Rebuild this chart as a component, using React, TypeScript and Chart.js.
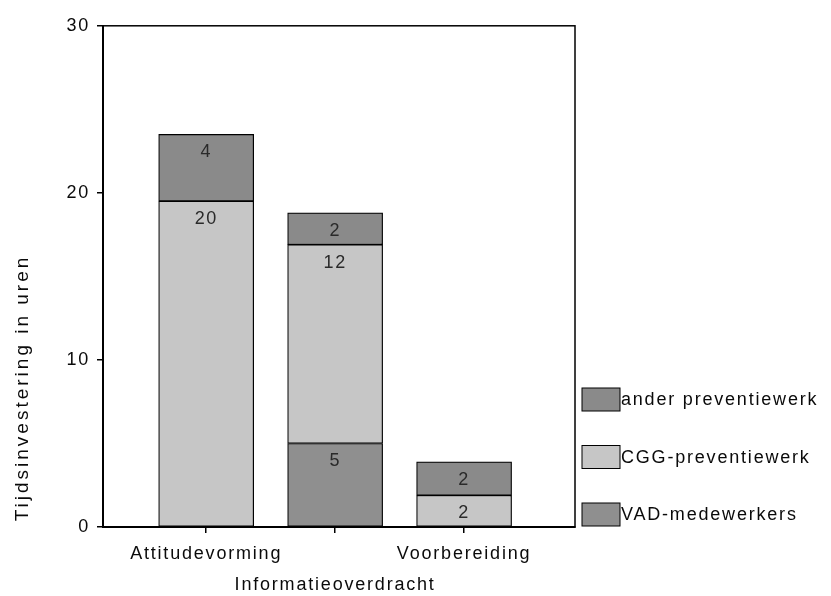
import React, { useEffect, useRef } from 'react';
import { Chart, registerables } from 'chart.js';

Chart.register(...registerables);

const categories = ['Attitudevorming', 'Informatieoverdracht', 'Voorbereiding'];
const seriesNames = ['VAD-medewerkers', 'CGG-preventiewerk', 'ander preventiewerk'];
const vadValues: (number | null)[] = [null, 5.0, null];
const cggValues: (number | null)[] = [19.5, 11.9, 1.9];
const anderValues: (number | null)[] = [4.0, 1.9, 2.0];
const seriesColors = ['#8f8f8f', '#c6c6c6', '#8a8a8a'];
const yTitle = 'Tijdsinvestering in uren';

const FONT = "'Liberation Sans', Arial, sans-serif";

const spacingPlugin = {
  id: 'spacing',
  beforeDraw(chart: any) {
    chart.ctx.letterSpacing = '1.8px';
  },
};

const framePlugin = {
  id: 'frame',
  afterDraw(chart: any) {
    const { ctx, chartArea } = chart;
    ctx.save();
    ctx.strokeStyle = '#000';
    ctx.lineWidth = 1.5;
    ctx.strokeRect(chartArea.left, chartArea.top, chartArea.right - chartArea.left, chartArea.bottom - chartArea.top);
    ctx.restore();
  },
};

const labelPlugin = {
  id: 'barLabels',
  afterDatasetsDraw(chart: any) {
    const { ctx } = chart;
    ctx.save();
    ctx.letterSpacing = '1.5px';
    ctx.font = `18px ${FONT}`;
    ctx.fillStyle = '#2a2a2a';
    ctx.textAlign = 'center';
    ctx.textBaseline = 'middle';
    chart.data.datasets.forEach((ds: any, i: number) => {
      const meta = chart.getDatasetMeta(i);
      meta.data.forEach((el: any, j: number) => {
        const v = ds.data[j].y;
        if (v == null) return;
        ctx.fillText(String(Math.round(v)), el.x, el.y + 18);
      });
    });
    ctx.restore();
  },
};

const legendTitlePlugin = {
  id: 'legendTitle',
  afterDraw(chart: any) {
    const { ctx } = chart;
    ctx.save();
    ctx.font = `18px ${FONT}`;
    const dsets = [...chart.data.datasets].reverse();
    ctx.letterSpacing = '1.8px';
    dsets.forEach((ds: any, k: number) => {
      const cy = 391.5 + k * 57.5;
      ctx.fillStyle = ds.backgroundColor;
      ctx.fillRect(574, cy - 11.5, 38, 23);
      ctx.strokeStyle = '#000';
      ctx.lineWidth = 1;
      ctx.strokeRect(574, cy - 11.5, 38, 23);
      ctx.fillStyle = '#0a0a0a';
      ctx.textAlign = 'left';
      ctx.textBaseline = 'middle';
      ctx.fillText(ds.label, 613, cy + 1);
    });
    ctx.fillStyle = '#0a0a0a';
    ctx.letterSpacing = '3px';
    ctx.translate(20, 380);
    ctx.rotate(-Math.PI / 2);
    ctx.textAlign = 'center';
    ctx.textBaseline = 'alphabetic';
    ctx.font = `19px ${FONT}`;
    ctx.fillText(yTitle, 0, 0);
    ctx.restore();
  },
};

export default function App() {
  const ref = useRef<HTMLCanvasElement | null>(null);
  useEffect(() => {
    if (!ref.current) return;
    const toPts = (arr: (number | null)[]) => arr.map((v, i) => ({ x: i, y: v }));
    const all = [vadValues, cggValues, anderValues];
    const chart = new Chart(ref.current, {
      type: 'bar',
      data: {
        datasets: all.map((arr, i) => ({
          label: seriesNames[i],
          data: toPts(arr) as any,
          backgroundColor: seriesColors[i],
          borderColor: '#000',
          borderWidth: 1.2,
          borderSkipped: false,
          barThickness: 95,
        })),
      },
      options: {
        animation: false,
        responsive: true,
        maintainAspectRatio: false,
        layout: { padding: { top: 9, right: 248, left: 0, bottom: 0 } },
        plugins: { legend: { display: false }, tooltip: { enabled: false } },
        scales: {
          x: {
            type: 'linear',
            stacked: true,
            offset: false,
            min: -0.8,
            max: 2.86,
            afterFit: (s: any) => { s.height = 69; },
            grid: { drawOnChartArea: false, drawTicks: true, tickLength: 6, color: '#000', lineWidth: 1.5, offset: false },
            border: { display: true, color: '#000', width: 2 },
            ticks: {
              stepSize: 1,
              includeBounds: false,
              autoSkip: false,
              maxRotation: 0,
              padding: 6,
              color: '#0a0a0a',
              font: { size: 18, family: FONT, lineHeight: 1.72 },
              callback: (v: any) => {
                const idx = Math.round(Number(v));
                if (Math.abs(Number(v) - idx) > 1e-6 || !categories[idx]) return '';
                return idx === 1 ? ['', categories[idx]] : categories[idx];
              },
            },
          },
          y: {
            stacked: true,
            min: 0,
            max: 30,
            afterFit: (s: any) => { s.width = 95; },
            grid: { drawOnChartArea: false, drawTicks: true, tickLength: 6, color: '#000', lineWidth: 1.5 },
            border: { display: true, color: '#000', width: 2 },
            ticks: {
              stepSize: 10,
              padding: 7,
              color: '#0a0a0a',
              font: { size: 18, family: FONT },
            },
          },
        },
      },
      plugins: [spacingPlugin, framePlugin, labelPlugin, legendTitlePlugin],
    });
    return () => chart.destroy();
  }, []);
  return (
    <div style={{ width: 815, height: 588, position: 'relative' }}>
      <canvas ref={ref} />
    </div>
  );
}
